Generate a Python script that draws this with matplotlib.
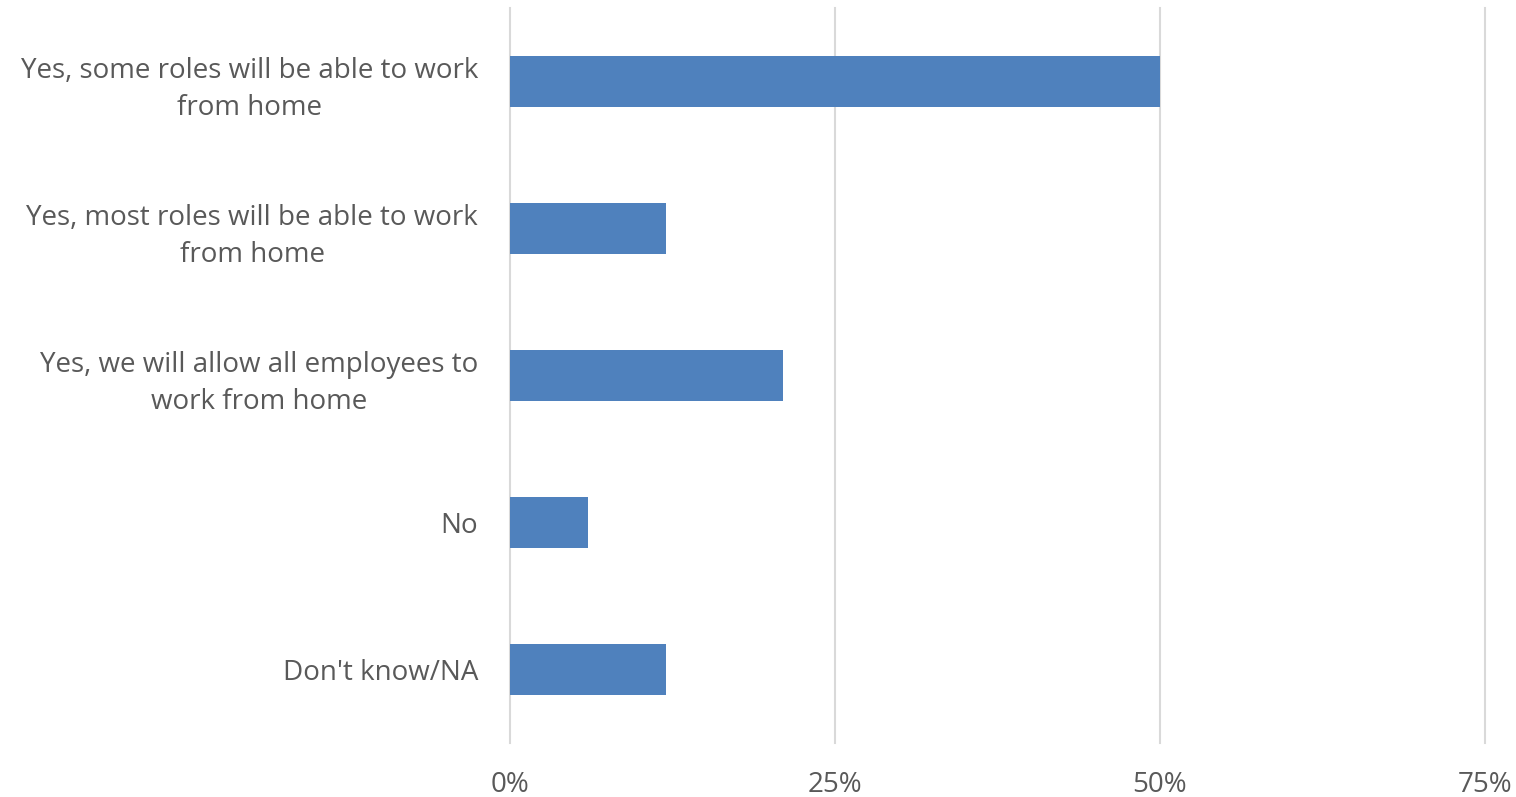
import matplotlib.pyplot as plt
from matplotlib.ticker import PercentFormatter

# survey answers, top to bottom
categories = [
    "Yes, some roles will be able to work\nfrom home",
    "Yes, most roles will be able to work\nfrom home",
    "Yes, we will allow all employees to\nwork from home",
    "No",
    "Don't know/NA",
]
shares = [50, 12, 21, 6, 12]
x_ticks = [0, 25, 50, 75]

plt.rcParams["font.family"] = ["Open Sans", "DejaVu Sans"]
text_color = "#595959"

fig = plt.figure(figsize=(15.16, 7.97), dpi=100)
ax = fig.add_axes([510 / 1516, 1 - 743 / 797, 975 / 1516, 735 / 797])

ypos = list(range(len(categories)))
ax.barh(ypos, shares, height=0.35, color="#4f81bd", zorder=3)

ax.set_xlim(0, 75)
ax.set_ylim(len(categories) - 0.5, -0.5)
ax.set_xticks(x_ticks)
ax.xaxis.set_major_formatter(PercentFormatter(decimals=0))
ax.set_yticks(ypos)
ax.set_yticklabels(categories, multialignment="center", linespacing=1.45)

ax.grid(axis="x", color="#d9d9d9", linewidth=1.5, zorder=0)
for gl in ax.get_xgridlines():
    gl.set_clip_on(False)
for s in ax.spines.values():
    s.set_visible(False)
ax.tick_params(axis="both", length=0, labelsize=20, labelcolor=text_color)
ax.tick_params(axis="y", pad=23)
ax.tick_params(axis="x", pad=20)

fig.savefig("out.png", dpi=100)
